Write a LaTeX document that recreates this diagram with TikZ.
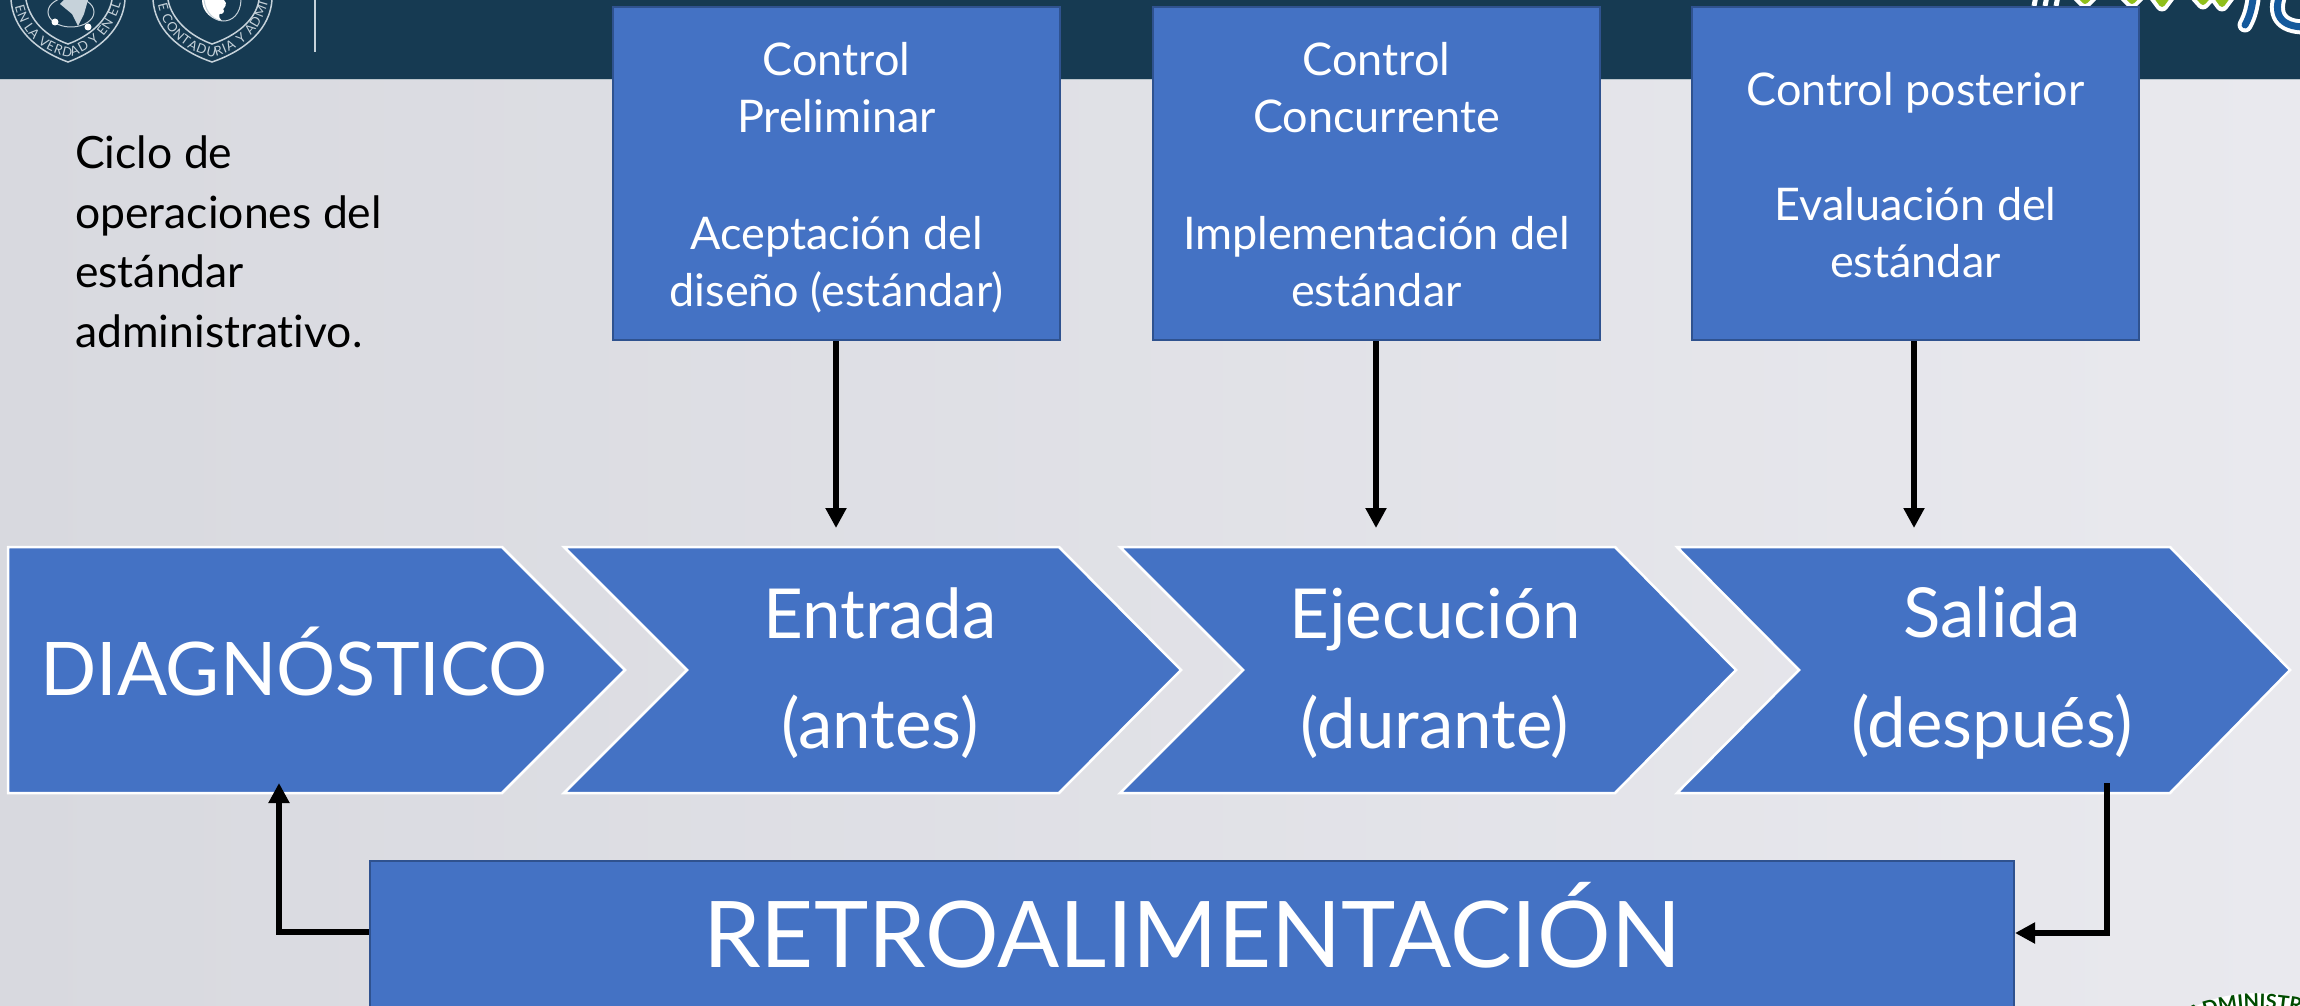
\documentclass[tikz,border=0pt]{standalone}
\usepackage{fontspec}
\setmainfont{Lato}[Ligatures=NoCommon]
\usetikzlibrary{arrows.meta,decorations.text}
\definecolor{hdr}{HTML}{163A52}
\definecolor{bluebox}{HTML}{4472C4}
\definecolor{bluedge}{HTML}{2F528F}
\definecolor{bgl}{HTML}{D8D9DF}
\definecolor{bgr}{HTML}{E9E9EE}
\definecolor{logoblue}{HTML}{14599C}
\definecolor{logogreen}{HTML}{8FBF1A}
\definecolor{crestc}{HTML}{C6D2DA}
\tikzset{
 x=1pt,y=-1pt,
 topbox/.style={draw=bluedge,line width=2pt,fill=bluebox,text=white,inner sep=0pt,minimum width=447pt,minimum height=333pt,anchor=north west,align=center,font=\fontsize{45}{57}\selectfont},
 chev/.style={draw=white,line width=2.5pt,fill=bluebox,line join=miter},
 big/.style={text=white,align=center,font=\fontsize{69}{110}\selectfont},
 conn/.style={draw=black,line width=6.2pt,-{Triangle[length=20pt,width=20pt]}},
 crest/.style={draw=crestc,line width=1.5pt},
}
\begin{document}
\begin{tikzpicture}
\useasboundingbox (0,0) rectangle (2300,1006);
\shade[left color=bgl,right color=bgr] (0,0) rectangle (2300,1006);
\fill[hdr] (0,0) rectangle (2300,79);
\draw[white!70!hdr,line width=1pt] (0,79.5) -- (2300,79.5);
% crest 1
\draw[crest] (11,0) .. controls (13,28) and (35,50) .. (68,62) .. controls (100,50) and (123,28) .. (125,0);
\draw[crest] (26,0) .. controls (30,20) and (45,36) .. (68,44) .. controls (90,36) and (108,20) .. (112,0);
\path[decorate,decoration={text along path,text={|\fontsize{13}{13}\selectfont\color{crestc}|EN LA VERDAD Y EN EL},text align={fit to path}}] (15,6) .. controls (21,32) and (38,50) .. (68,57) .. controls (96,50) and (112,32) .. (121,3);
\fill[crestc] (64,0) -- (88,0) -- (84,14) -- (78,26) -- (72,14) -- (60,4) -- cycle;
\draw[crestc,line width=1pt] (71,12) ellipse (23 and 15);
\fill[white] (55,22) circle (3.5);\fill[white] (88,27) circle (3.5);
% crest 2
\draw[crest] (153,0) .. controls (155,28) and (177,50) .. (212,62) .. controls (247,50) and (270,28) .. (272,0);
\draw[crest] (168,0) .. controls (172,20) and (190,36) .. (212,44) .. controls (236,36) and (256,20) .. (259,0);
\path[decorate,decoration={text along path,text={|\fontsize{13}{13}\selectfont\color{crestc}|E CONTADURIA Y ADMI},text align={fit to path}}] (158,4) .. controls (164,32) and (182,50) .. (212,57) .. controls (242,50) and (260,32) .. (268,3);
\fill[white] (202,0) .. controls (202,12) and (212,20) .. (222,21) .. controls (212,12) and (232,8) .. (224,0) -- cycle;
\fill[white] (221,11) circle (3);
\draw[crestc,line width=1pt] (204,0) .. controls (208,28) and (240,28) .. (241,0);
\draw[crestc,line width=2pt] (315,0) -- (315,52);
% top right logo
\begin{scope}
\clip (2000,0) rectangle (2300,40);
\draw[white,line width=5pt] (2036,-4) -- (2034,6) (2047,-4) -- (2045,6) (2058,-4) -- (2056,6);
\foreach \cx/\dp in {2085/2,2132/2,2162/5,2203/3,2222/5}{
  \draw[white,line width=13pt,line join=round,line cap=round] (\cx-9,-7) -- (\cx,\dp) -- (\cx+9,-7);
  \draw[logogreen,line width=6pt,line join=round] (\cx-8,-7) -- (\cx,\dp-1) -- (\cx+8,-7);
}
\draw[white,line width=15pt,line cap=round] (2254,-8) .. controls (2252,8) and (2250,16) .. (2245,25);
\draw[white,line width=15pt,line cap=round] (2281,-8) .. controls (2272,14) and (2280,27) .. (2305,27);
\draw[logoblue,line width=7pt,line cap=round] (2254,-8) .. controls (2252,8) and (2250,16) .. (2245,25);
\draw[logoblue,line width=7pt,line cap=round] (2281,-8) .. controls (2272,14) and (2280,27) .. (2305,27);
\end{scope}
% bottom right logo
\begin{scope}
\clip (2180,980) rectangle (2300,1006);
\fill[white] (2186,1012) .. controls (2215,992) and (2265,988) .. (2300,999) -- (2300,1006) -- (2186,1012) -- cycle;
\path[decorate,decoration={text along path,text={|\fontsize{20}{20}\selectfont\bfseries\color{green!30!black}|ADMINISTRA},text align=left}] (2192,1022) .. controls (2220,1008) and (2262,1004) .. (2305,1014);
\end{scope}
% left text
\node[anchor=north west,align=left,inner sep=0pt,font=\fontsize{44.5}{59.5}\selectfont,text=black] (ciclo) at (75,136) {Ciclo de\\operaciones del\\estándar\\administrativo.};
% top boxes
\node[topbox] (b1) at (612,6) {\rule{0pt}{47pt}Control\\Preliminar\\[60pt]Aceptación del\\\rule[-13pt]{0pt}{13pt}diseño (estándar)};
\node[topbox] (b2) at (1152,6) {\rule{0pt}{47pt}Control\\Concurrente\\[60pt]Implementación del\\\rule[-13pt]{0pt}{13pt}estándar};
\node[topbox] (b3) at (1691,6) {\rule{0pt}{36pt}Control posterior\\[58pt]Evaluación del\\estándar};
% chevrons
\draw[chev] (8,547) -- (502,547) -- (625,670) -- (502,793) -- (8,793) -- cycle;
\draw[chev] (564,547) -- (1059,547) -- (1181,670) -- (1059,793) -- (564,793) -- (687,670) -- cycle;
\draw[chev] (1120,547) -- (1615,547) -- (1736,670) -- (1615,793) -- (1120,793) -- (1243,670) -- cycle;
\draw[chev] (1677,547) -- (2170,547) -- (2290,670) -- (2170,793) -- (1677,793) -- (1799,670) -- cycle;
\coordinate (c2) at (836,528);
\coordinate (c3) at (1376,528);
\coordinate (c4) at (1914,528);
\node[big,font=\fontsize{74}{74}\selectfont,text height=53pt,text depth=0pt,inner sep=0pt] (diag) at (294,669) {DIAGNÓSTICO};
\node[big] (entr) at (880,673) {Entrada\\(antes)};
\node[big] (ejec) at (1435,673) {Ejecución\\(durante)};
\node[big] (sali) at (1992,673) {Salida\\(después)};
% retro
\node[draw=bluedge,line width=2pt,fill=bluebox,text=white,inner sep=0pt,minimum width=1644pt,minimum height=147pt,anchor=north west,text height=66pt,text depth=0pt,font=\fontsize{92}{92}\selectfont] (retro) at (369,860) {RETROALIMENTACIÓN};
% connectors
\draw[conn] (b1.south -| c2) -- (c2);
\draw[conn] (b2.south -| c3) -- (c3);
\draw[conn] (b3.south -| c4) -- (c4);
\coordinate (salout) at (2107,783);
\coordinate (diagin) at (279,783);
\draw[conn,line join=miter] (salout) |- (retro.east |- 0,933);
\draw[conn,line join=miter] (retro.west |- 0,932) -| (diagin);
\end{tikzpicture}
\end{document}
